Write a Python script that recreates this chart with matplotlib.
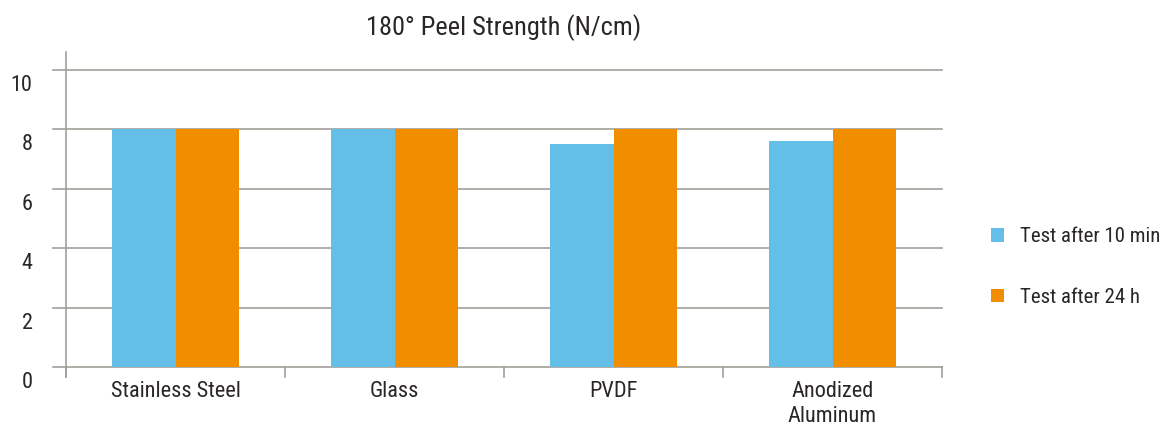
import matplotlib
matplotlib.use("Agg")
import matplotlib.pyplot as plt
from matplotlib.patches import Patch
from matplotlib.transforms import ScaledTranslation
import numpy as np

categories = ["Stainless Steel", "Glass", "PVDF", "Anodized\nAluminum"]
after_10min = [8.0, 8.0, 7.5, 7.6]
after_24h = [8.0, 8.0, 8.0, 8.0]
series_names = ["Test after 10 min", "Test after 24 h"]
yticks = [0, 2, 4, 6, 8, 10]

BLUE = "#63BEE8"
ORANGE = "#F08E00"
GRID = "#A39E9A"
TEXT = "#2b2626"

plt.rcParams["font.family"] = ["Liberation Sans Narrow", "Roboto Condensed", "DejaVu Sans"]

fig = plt.figure(figsize=(11.65, 4.28), dpi=100)
ax = fig.add_axes([66 / 1165, 61 / 428, 876 / 1165, 315 / 428])

x = np.arange(len(categories))
w = 0.288
ax.bar(x - w / 2, after_10min, w, color=BLUE, zorder=3)
ax.bar(x + w / 2, after_24h, w, color=ORANGE, zorder=3)

ax.set_xlim(-0.5, len(categories) - 0.5)
ax.set_ylim(0, 10.6)
for s in ax.spines.values():
    s.set_visible(False)

# gridlines reaching a bit left of the axis
for v in yticks:
    ax.plot([-0.56, len(categories) - 0.5], [v, v], color=GRID, lw=1.2,
            clip_on=False, zorder=1)
# left axis line
ax.plot([-0.5, -0.5], [-0.34, 10.6], color=GRID, lw=1.2, clip_on=False, zorder=2)
# category boundary ticks
for b in np.arange(-0.5, len(categories), 1.0):
    ax.plot([b, b], [0, -0.34], color=GRID, lw=1.2, clip_on=False, zorder=2)

ax.set_yticks(yticks)
ax.set_yticklabels([str(v) for v in yticks])
ax.tick_params(axis="y", length=0, pad=24, labelsize=16, labelcolor=TEXT)
off = ScaledTranslation(0, -13 / 100, fig.dpi_scale_trans)
for lab in ax.get_yticklabels():
    lab.set_transform(lab.get_transform() + off)

ax.set_xticks(x)
ax.set_xticklabels(categories, linespacing=1.25)
ax.tick_params(axis="x", length=0, pad=10, labelsize=16, labelcolor=TEXT)

ax.set_title("180° Peel Strength (N/cm)", fontsize=19, color=TEXT, pad=12)

handles = [Patch(facecolor=BLUE), Patch(facecolor=ORANGE)]
fig.legend(handles, series_names, loc="center left",
           bbox_to_anchor=(972 / 1165, 1 - 267 / 428), frameon=False,
           fontsize=15, labelcolor=TEXT, handlelength=0.65, handleheight=0.65,
           handletextpad=0.75, labelspacing=2.0)

fig.savefig("out.png", dpi=100)
